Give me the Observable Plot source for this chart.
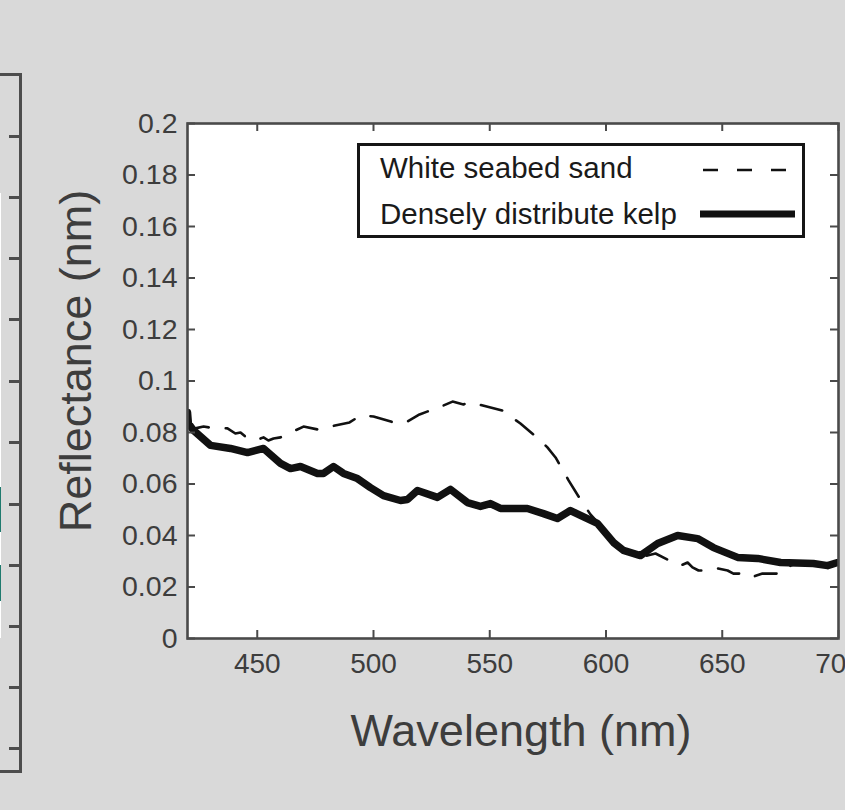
<!DOCTYPE html>
<html>
<head>
<meta charset="utf-8">
<script src="https://cdn.jsdelivr.net/npm/d3@7"></script>
<script src="https://cdn.jsdelivr.net/npm/@observablehq/plot@0.6"></script>
<style>
  html, body { margin: 0; padding: 0; background: #d9d9d9; }
  #wrap { position: relative; width: 845px; height: 810px; overflow: hidden; background: #d9d9d9;
          font-family: "Liberation Sans", Arial, Helvetica, sans-serif; }
  #chart { position: absolute; left: 0; top: 0; }
  .legend { position: absolute; left: 357px; top: 143px; width: 442px; height: 89px;
            border: 3px solid #151515; background: #fff; }
  .legend .row { position: absolute; left: 20px; font-size: 29.5px; color: #1a1a1a; white-space: nowrap; }
  .legend svg { position: absolute; }
  .left-panel { position: absolute; left: -3px; top: 73px; width: 22px; height: 694px;
                border: 3px solid #4d4d4d; border-left: none; }
  .lp-tick { position: absolute; right: 0; width: 10px; height: 3px; background: #4d4d4d; }
  .lp-img { position: absolute; left: 0; width: 4px; }
</style>
</head>
<body>
<div id="wrap">
  <div class="left-panel" id="leftPanel"></div>
  <div id="chart"></div>
  <div class="legend">
    <div class="row" style="top:5px">White seabed sand</div>
    <svg style="left:343px; top:14px" width="92" height="20"><line x1="0" y1="10" x2="92" y2="10" stroke="#111" stroke-width="2.5" stroke-dasharray="15,19"/></svg>
    <div class="row" style="top:51px">Densely distribute kelp</div>
    <svg style="left:340px; top:58px" width="95" height="20"><line x1="0" y1="10" x2="95" y2="10" stroke="#111" stroke-width="7"/></svg>
  </div>
</div>
<script>
// ---- data ----
const sandWavelength = [420.0, 423.4, 426.9, 429.9, 437.2, 440.6, 442.8, 444.9, 449.2, 452.7, 454.8, 457.0, 460.0,
  469.9, 475.9, 479.4, 489.7, 494.4, 500.0, 510.3, 514.6, 519.8, 530.1, 534.0, 538.7, 540.9, 545.2, 555.5,
  563.2, 571.8, 574.8, 578.3, 583.9, 589.0, 593.3, 597.6, 603.2, 608.4, 614.8, 617.8, 621.3, 629.0, 632.0,
  635.1, 637.2, 639.8, 642.8, 648.0, 652.3, 654.8, 659.1, 662.2, 667.3, 675.9, 679.4, 682.8, 689.2, 695.3, 699.6];
const sandReflectance = [0.0827, 0.0816, 0.0823, 0.0819, 0.0816, 0.0796, 0.0800, 0.0784, 0.0769, 0.0781, 0.0769, 0.0777, 0.0781,
  0.0823, 0.0812, 0.0819, 0.0839, 0.0866, 0.0862, 0.0835, 0.0843, 0.0870, 0.0905, 0.0920, 0.0909, 0.0917, 0.0909, 0.0885,
  0.0835, 0.0769, 0.0742, 0.0703, 0.0614, 0.0540, 0.0482, 0.0439, 0.0373, 0.0342, 0.0315, 0.0322, 0.0330, 0.0295, 0.0283,
  0.0295, 0.0276, 0.0264, 0.0264, 0.0272, 0.0264, 0.0252, 0.0252, 0.0237, 0.0252, 0.0252, 0.0283, 0.0295, 0.0291, 0.0283, 0.0295];

const kelpWavelength = [420.0, 420.4, 422.6, 429.9, 438.5, 445.8, 452.7, 460.0, 464.3, 468.6, 475.9, 478.5, 482.8,
  487.1, 493.1, 498.7, 504.3, 511.6, 514.6, 518.9, 527.5, 533.1, 540.4, 546.0, 550.3, 554.6, 566.2, 573.1,
  579.1, 584.7, 589.0, 596.3, 603.2, 607.5, 614.8, 622.2, 630.8, 639.4, 646.2, 656.6, 665.2, 675.1, 689.2, 695.3, 699.6];
const kelpReflectance = [0.0878, 0.0835, 0.0808, 0.0750, 0.0738, 0.0722, 0.0738, 0.0680, 0.0660, 0.0668, 0.0641, 0.0641, 0.0668,
  0.0641, 0.0621, 0.0586, 0.0555, 0.0536, 0.0540, 0.0575, 0.0548, 0.0579, 0.0528, 0.0513, 0.0524, 0.0505, 0.0505, 0.0485,
  0.0466, 0.0497, 0.0478, 0.0447, 0.0373, 0.0342, 0.0322, 0.0369, 0.0400, 0.0388, 0.0353, 0.0315, 0.0311, 0.0295, 0.0291, 0.0283, 0.0295];

const xTicks = [450, 500, 550, 600, 650, 700];
const yTicks = [0, 0.02, 0.04, 0.06, 0.08, 0.1, 0.12, 0.14, 0.16, 0.18, 0.2];
const yTickLabels = ["0", "0.02", "0.04", "0.06", "0.08", "0.1", "0.12", "0.14", "0.16", "0.18", "0.2"];
const xLabel = "Wavelength (nm)";
const yLabel = "Reflectance (nm)";

const sand = sandWavelength.map((w, i) => ({w, r: sandReflectance[i]}));
const kelp = kelpWavelength.map((w, i) => ({w, r: kelpReflectance[i]}));

// ---- layout ----
const W = 845, H = 810;
const mL = 187, mR = 7, mT = 123, mB = 172;
const pw = W - mL - mR, ph = H - mT - mB;
const tickLen = 8;
const axisColor = "#4a4a4a";
const textColor = "#3d3d3d";

const chart = Plot.plot({
  width: W, height: H,
  marginLeft: mL, marginRight: mR, marginTop: mT, marginBottom: mB,
  style: {background: "transparent", fontFamily: "'Liberation Sans', Arial, Helvetica, sans-serif", color: textColor},
  x: {domain: [420, 700]},
  y: {domain: [0, 0.2]},
  marks: [
    Plot.frame({fill: "white"}),
    Plot.line(sand, {x: "w", y: "r", stroke: "#111", strokeWidth: 2.6, strokeDasharray: "22,17", curve: "linear", clip: true}),
    Plot.line(kelp, {x: "w", y: "r", stroke: "#111", strokeWidth: 7.5, strokeLinejoin: "round", strokeLinecap: "round", clip: true}),
    // inward ticks on all four sides
    Plot.tickX(xTicks, {x: d => d, stroke: axisColor, strokeWidth: 2, insetTop: ph - tickLen}),
    Plot.tickX(xTicks, {x: d => d, stroke: axisColor, strokeWidth: 2, insetBottom: ph - tickLen}),
    Plot.tickY(yTicks, {y: d => d, stroke: axisColor, strokeWidth: 2, insetRight: pw - tickLen}),
    Plot.tickY(yTicks, {y: d => d, stroke: axisColor, strokeWidth: 2, insetLeft: pw - tickLen}),
    Plot.frame({stroke: axisColor, strokeWidth: 2.6}),
    Plot.axisX(xTicks, {tickSize: 0, tickPadding: 15, fontSize: 28, label: null, fill: textColor}),
    Plot.axisY(yTicks, {tickSize: 0, tickPadding: 10, fontSize: 28.5, label: null, fill: textColor,
      tickFormat: d => yTickLabels[yTicks.indexOf(d)]}),
    Plot.text([xLabel], {frameAnchor: "bottom", text: d => d, dy: 107, dx: 8, lineAnchor: "bottom", fontSize: 45, fill: textColor}),
    Plot.text([yLabel], {frameAnchor: "left", text: d => d, rotate: -90, textAnchor: "middle", dx: -97, dy: -20, lineAnchor: "bottom", fontSize: 45, fill: textColor})
  ]
});
document.getElementById("chart").appendChild(chart);

// left fragment of a neighbouring panel
const lp = document.getElementById("leftPanel");
const lpTicks = [136, 197, 258, 319, 381, 442, 504, 565, 626, 687, 748];
lpTicks.forEach(t => {
  const d = document.createElement("div");
  d.className = "lp-tick";
  d.style.top = (t - 73 - 4) + "px";
  lp.appendChild(d);
});
[[193, 638, "#ffffff"], [487, 532, "#1f7a6e"], [565, 601, "#1f7a6e"]].forEach(([a, b, c]) => {
  const d = document.createElement("div");
  d.className = "lp-img";
  d.style.top = (a - 73 - 3) + "px";
  d.style.height = (b - a) + "px";
  d.style.background = c;
  lp.appendChild(d);
});
</script>
</body>
</html>
